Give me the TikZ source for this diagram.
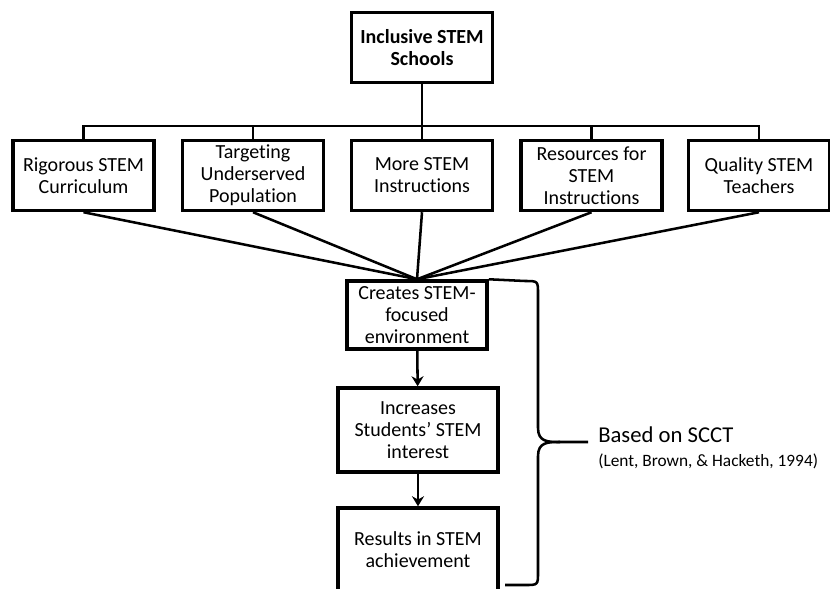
\documentclass[tikz,border=0pt]{standalone}
\usepackage{fontspec}
\setmainfont{Carlito}[RawFeature={-liga;-clig;-calt;-dlig}]
\usepackage{xcolor}
\usepackage{tikz}
\usetikzlibrary{arrows.meta, positioning, shadows}
\tikzstyle{box} = [
    rectangle,
    draw=black,
    line width=2.6pt,
    fill=white,
    align=center,
    inner sep=0pt,
    minimum width=105.75pt,
    minimum height=52.5pt,
    font=\fontsize{15}{16.5}\selectfont,
    drop shadow={shadow xshift=1.2pt, shadow yshift=-1.2pt, opacity=0.3, fill=black!60}
]
\tikzstyle{conn} = [
    line width=1.9pt,
    color=black
]
\tikzstyle{arrow} = [
    line width=1.9pt,
    -{Stealth[length=7.5pt, width=9pt]},
    color=black
]

\begin{document}
\begin{tikzpicture}[x=0.75pt, y=-0.75pt]
        \useasboundingbox (0,0) rectangle (830,588);
        \clip (0,0) rectangle (830,588);
        % Top
        \node[box, font=\fontsize{15}{16.5}\selectfont\bfseries] (school) at (422, 47.5) {Inclusive STEM\\Schools};
        % Components
        \node[box] (rigor) at (83.5, 175.5) {Rigorous STEM\\Curriculum};
        \node[box] (target) at (253, 175.5) {Targeting\\Underserved\\Population};
        \node[box] (instr) at (422, 175.5) {More STEM\\Instructions};
        \node[box] (resrc) at (591.5, 175.5) {Resources for\\STEM\\Instructions};
        \node[box] (teach) at (759, 175.5) {Quality STEM\\Teachers};
        % Outcomes
        \node[box, minimum width=105pt, minimum height=51pt] (create) at (417, 315) {Creates STEM-\\focused\\environment};
        \node[box, minimum width=120pt, minimum height=63pt] (interest) at (418, 430) {Increases\\Students’ STEM\\interest};
        \node[box, minimum width=120pt, minimum height=63pt] (achieve) at (418, 550) {Results in STEM\\achievement};
        % Label
        \node[anchor=base west, inner sep=0pt, font=\fontsize{17}{20}\selectfont] (scct) at (598, 442) {Based on SCCT};
        \node[anchor=base west, inner sep=0pt, font=\fontsize{13}{15}\selectfont] (cite) at (598, 466) {(Lent, Brown, \& Hacketh, 1994)};
        \coordinate (bus) at (422, 126);
        \coordinate (tip) at (588, 442);
        \coordinate (brend) at (505, 585);

        % Lines
        \draw[conn] (school) -- (bus);
        \draw[conn] (rigor.north) |- (bus) -| (teach.north);
        \draw[conn] (target.north) -- (target.north |- bus);
        \draw[conn] (instr.north) -- (bus);
        \draw[conn] (resrc.north) -- (resrc.north |- bus);
        \draw[conn] (rigor.south) -- (create.north);
        \draw[conn] (target.south) -- (create.north);
        \draw[conn] (instr.south) -- (create.north);
        \draw[conn] (resrc.south) -- (create.north);
        \draw[conn] (teach.south) -- (create.north);
        \draw[arrow] (create) -- (interest);
        \draw[arrow] (interest) -- (achieve);
        % Brace
        \draw[conn] (create.north east) -- (525, 281) .. controls (538, 281) .. (538, 294)
            -- (538, 428) .. controls (538, 442) and (548, 442) .. (560, 442) -- (tip);
        \draw[conn] (560, 442) .. controls (548, 442) and (538, 442) .. (538, 456)
            -- (538, 572) .. controls (538, 585) .. (525, 585) -- (brend);
    \end{tikzpicture}
\end{document}
